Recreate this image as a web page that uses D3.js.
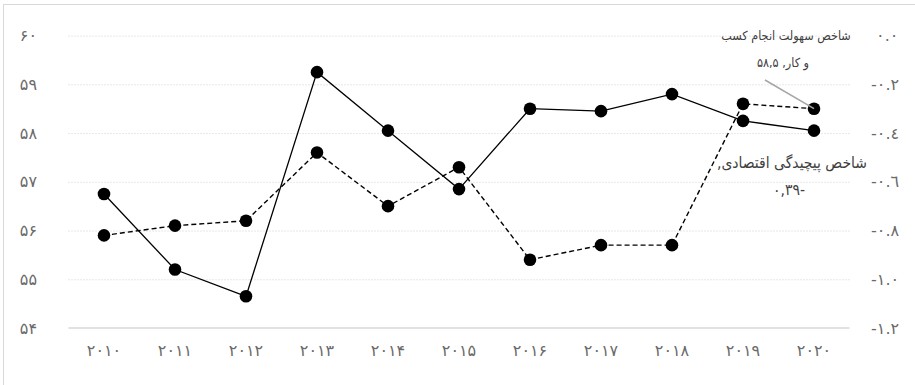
<!DOCTYPE html>
<html><head><meta charset="utf-8">
<script src="https://cdn.jsdelivr.net/npm/d3@7"></script>
<style>
body{margin:0;background:#fff;}
svg text{font-family:"DejaVu Sans",sans-serif;}
</style>
</head><body>
<svg id="c" width="915" height="385"></svg>
<script>
const years = ["۲۰۱۰","۲۰۱۱","۲۰۱۲","۲۰۱۳","۲۰۱۴","۲۰۱۵","۲۰۱۶","۲۰۱۷","۲۰۱۸","۲۰۱۹","۲۰۲۰"];
const easeOfBusiness = [55.9, 56.1, 56.2, 57.6, 56.5, 57.3, 55.4, 55.7, 55.7, 58.6, 58.5];
const complexity = [-0.65, -0.96, -1.07, -0.15, -0.39, -0.63, -0.30, -0.31, -0.24, -0.35, -0.39];
const leftTicks = [54, 55, 56, 57, 58, 59, 60];
const leftTickLabels = ["۵۴","۵۵","۵۶","۵۷","۵۸","۵۹","۶۰"];
const rightTicks = [-1.2, -1.0, -0.8, -0.6, -0.4, -0.2, 0.0];
const rightTickLabels = ["-١.٢","-١.٠","-٠.٨","-٠.٦","-٠.٤","-٠.٢","\u00A0٠.٠"];
const easeLabel = ["شاخص سهولت انجام کسب", "و کار, ۵۸,۵"];
const complexityLabel = ["شاخص پیچیدگی اقتصادی,", "-۰,۳۹"];

const svg = d3.select("#c");
const plot = {left: 68.5, right: 849.5, top: 35.6, bottom: 328};

// chart border
svg.append("rect").attr("x", 3.5).attr("y", 4.5).attr("width", 1000).attr("height", 1000)
  .attr("fill", "none").attr("stroke", "#d9d9d9").attr("stroke-width", 1);

const x = d3.scaleBand().domain(years).range([plot.left, plot.right]).paddingInner(0).paddingOuter(0);
const cx = d => x(d) + x.bandwidth() / 2;
const yL = d3.scaleLinear().domain([54, 60]).range([plot.bottom, plot.top]);
const yR = d3.scaleLinear().domain([-1.2, 0]).range([plot.bottom, plot.top]);

// gridlines
const gridG = svg.append("g")
  .attr("transform", `translate(${plot.left},0)`)
  .call(d3.axisLeft(yL).tickValues(leftTicks.filter(t => t !== 54)).tickSize(-(plot.right - plot.left)).tickFormat(""));
gridG.select(".domain").remove();
gridG.selectAll("line").attr("stroke", "#cfcfcf").attr("stroke-width", 1).attr("stroke-dasharray", "1,2");

// bottom axis line
svg.append("line").attr("x1", plot.left).attr("x2", plot.right)
  .attr("y1", yL(54)).attr("y2", yL(54)).attr("stroke", "#d9d9d9").attr("stroke-width", 1.5);

const axisFont = "16px";
const axisColor = "#6a6a6a";

// left axis labels
const la = svg.append("g").attr("transform", "translate(37,0)")
  .call(d3.axisLeft(yL).tickValues(leftTicks).tickSize(0).tickPadding(0)
    .tickFormat((d, i) => leftTickLabels[i]));
la.select(".domain").remove();
la.selectAll("text").attr("fill", axisColor).style("font-size", axisFont)
  .style("font-family", "'DejaVu Sans',sans-serif");

// right axis labels
const ra = svg.append("g").attr("transform", "translate(871,0)")
  .call(d3.axisRight(yR).tickValues(rightTicks).tickSize(0).tickPadding(0)
    .tickFormat((d, i) => rightTickLabels[i]));
ra.select(".domain").remove();
ra.selectAll("text").attr("fill", axisColor).style("font-size", axisFont)
  .attr("direction", "ltr").style("font-family", "'DejaVu Sans',sans-serif");

// x axis labels
const xa = svg.append("g").attr("transform", `translate(0,${plot.bottom + 17})`)
  .call(d3.axisBottom(x).tickSize(0).tickPadding(0));
xa.select(".domain").remove();
xa.selectAll("text").attr("fill", axisColor).style("font-size", axisFont)
  .style("letter-spacing", "1.5px")
  .style("font-family", "'DejaVu Sans',sans-serif");

// lines
const lineEase = d3.line().x((d, i) => cx(years[i])).y(d => yL(d));
const lineComp = d3.line().x((d, i) => cx(years[i])).y(d => yR(d));

svg.append("path").datum(easeOfBusiness).attr("d", lineEase)
  .attr("fill", "none").attr("stroke", "#000").attr("stroke-width", 1.4).attr("stroke-dasharray", "5,3");
svg.append("path").datum(complexity).attr("d", lineComp)
  .attr("fill", "none").attr("stroke", "#000").attr("stroke-width", 1.3);

svg.append("g").selectAll("circle").data(easeOfBusiness).join("circle")
  .attr("cx", (d, i) => cx(years[i])).attr("cy", d => yL(d)).attr("r", 6.3).attr("fill", "#000");
svg.append("g").selectAll("circle").data(complexity).join("circle")
  .attr("cx", (d, i) => cx(years[i])).attr("cy", d => yR(d)).attr("r", 6.3).attr("fill", "#000");

// annotations
const lastI = years.length - 1;
svg.append("line")
  .attr("x1", 765).attr("y1", 80)
  .attr("x2", cx(years[lastI])).attr("y2", yL(easeOfBusiness[lastI]))
  .attr("stroke", "#a6a6a6").attr("stroke-width", 1.5);

const annFont = "'DejaVu Sans Condensed','DejaVu Sans',sans-serif";
const a1 = svg.append("text").attr("y", 40).attr("text-anchor", "middle")
  .attr("direction", "rtl").attr("fill", "#404040").style("font-size", "12.5px")
  .style("font-family", annFont).style("font-stretch", "condensed");
a1.append("tspan").attr("x", 786).attr("dy", 0).text(easeLabel[0]);
a1.append("tspan").attr("x", 783).attr("dy", 27).text(easeLabel[1]);

const a2 = svg.append("text").attr("y", 168).attr("text-anchor", "middle")
  .attr("direction", "rtl").attr("fill", "#404040").style("font-size", "15.5px")
  .style("font-family", annFont).style("font-stretch", "condensed");
a2.append("tspan").attr("x", 792).attr("dy", 0).text(complexityLabel[0]);
a2.append("tspan").attr("x", 789).attr("dy", 27).text(complexityLabel[1]);
</script>
</body></html>
